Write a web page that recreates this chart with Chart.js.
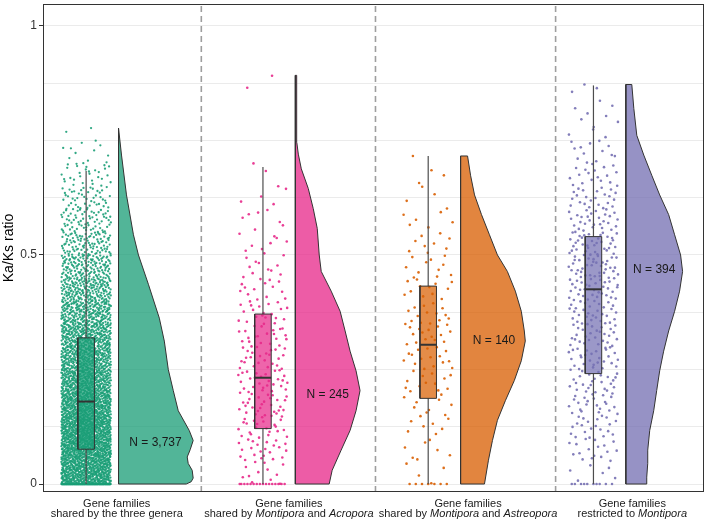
<!DOCTYPE html>
<html>
<head>
<meta charset="utf-8">
<script src="https://cdn.jsdelivr.net/npm/chart.js@4.4.0/dist/chart.umd.min.js"></script>
<style>
  html, body { margin: 0; padding: 0; background: #fff; }
  #wrap { width: 708px; height: 520px; }
</style>
</head>
<body>
<div id="wrap"><canvas id="chart" width="708" height="520"></canvas></div>
<script>
const FONT = "'Liberation Sans', Arial, Helvetica, sans-serif";

// axis ranges
const xMin = 0.669, xMax = 4.669;
const yMin = -0.0174, yMax = 1.0477;
const gridValues = [0, 0.125, 0.25, 0.375, 0.5, 0.625, 0.75, 0.875, 1];
const tickLabels = { 0: '0', 0.5: '0.5', 1: '1' };

// groups
const colors = ['#1b9e77', '#e7298a', '#d95f02', '#7570b3'];
const groupPos = [0.93, 2, 3, 4];
const separators = [1.627, 2.681, 3.771];
const labelPos = [1.115, 2.157, 3.241, 4.235];
const xLabelLine1 = ['Gene families', 'Gene families', 'Gene families', 'Gene families'];
const xLabelLine2 = [
    [['shared by the three genera', false]],
    [['shared by ', false], ['Montipora', true], [' and ', false], ['Acropora', true]],
    [['shared by ', false], ['Montipora', true], [' and ', false], ['Astreopora', true]],
    [['restricted to ', false], ['Montipora', true]]
];
const nLabels = ['N = 3,737', 'N = 245', 'N = 140', 'N = 394'];
const nLabelX = [1.35, 2.392, 3.398, 4.368];
const nLabelY = [0.091, 0.195, 0.312, 0.468];

// box stats: lower whisker, Q1, median, Q3, upper whisker
const boxStats = [
    [0, 0.076, 0.180, 0.319, 0.683],
    [0, 0.121, 0.232, 0.371, 0.692],
    [0, 0.187, 0.304, 0.432, 0.716],
    [0, 0.241, 0.425, 0.540, 0.870]
];

// half-violin density profiles (Ka/Ks level, relative density)
const g1Levels  = [0, 0.005, 0.013, 0.03, 0.045, 0.059, 0.075, 0.095, 0.117, 0.16, 0.204, 0.25, 0.312, 0.362, 0.436, 0.5, 0.544, 0.631, 0.718, 0.777];
const g1Density = [68, 73, 75, 74, 70, 69, 72, 75, 71, 60, 55, 50, 46, 41, 30, 20, 15, 8, 3, 0];
const g2Levels  = [0, 0.03, 0.074, 0.117, 0.16, 0.204, 0.247, 0.29, 0.334, 0.377, 0.421, 0.464, 0.5, 0.558, 0.601, 0.645, 0.688, 0.72, 0.745, 0.8, 0.892];
const g2Density = [34, 37, 46, 55, 61, 65, 61, 55, 50, 45, 36, 26, 24, 22, 18, 13, 6, 3, 1.5, 1.2, 1.5];
const g3Levels  = [0, 0.052, 0.095, 0.139, 0.182, 0.226, 0.269, 0.312, 0.334, 0.377, 0.421, 0.464, 0.5, 0.544, 0.588, 0.631, 0.674, 0.716];
const g3Density = [24, 28, 32, 37, 45, 54, 61, 65, 64, 61, 55, 47, 37, 29, 21, 14, 10, 7];
const g4Levels  = [0, 0.015, 0.045, 0.074, 0.117, 0.16, 0.204, 0.247, 0.29, 0.334, 0.377, 0.421, 0.464, 0.5, 0.544, 0.588, 0.631, 0.674, 0.718, 0.761, 0.82, 0.872];
const g4Density = [21, 21, 22, 22, 24, 28, 31, 34, 38, 43, 49, 54, 57, 55, 49, 43, 34, 26, 18, 11, 8, 6];

// jittered points: count at exactly 0, counts per 0.05 bin, single high values
const binStarts = [0, 0.05, 0.1, 0.15, 0.2, 0.25, 0.3, 0.35, 0.4, 0.45, 0.5, 0.55, 0.6, 0.65, 0.7, 0.75, 0.8, 0.85];
const binWidth = 0.05;
const g1Zeros = 250;
const g1Counts = [450, 460, 440, 400, 340, 300, 280, 232, 189, 142, 98, 67, 46, 29, 12, 1, 0, 0];
const g1Extremes = [0.777];
const g2Zeros = 16;
const g2Counts = [12, 22, 24, 28, 27, 24, 22, 20, 14, 11, 9, 7, 4, 3, 0, 0, 0, 0];
const g2Extremes = [0.865, 0.891];
const g3Zeros = 7;
const g3Counts = [4, 7, 8, 9, 13, 16, 16, 14, 12, 11, 9, 6, 4, 3, 0, 0, 0, 0];
const g3Extremes = [0.716];
const g4Zeros = 10;
const g4Counts = [6, 17, 21, 23, 26, 28, 28, 31, 34, 37, 36, 29, 23, 18, 13, 6, 5, 0];
const g4Extremes = [0.856, 0.864, 0.872];

const violinLevels = [g1Levels, g2Levels, g3Levels, g4Levels];
const violinDensity = [g1Density, g2Density, g3Density, g4Density];
const zeroCounts = [g1Zeros, g2Zeros, g3Zeros, g4Zeros];
const binCounts = [g1Counts, g2Counts, g3Counts, g4Counts];
const extremes = [g1Extremes, g2Extremes, g3Extremes, g4Extremes];

// layout of one group (x units)
const jitterHalf = 0.15;
const boxHalf = 0.05;
const violinGap = 0.196;
const densScale = 1 / 166;

function rgba(hex, a) {
    const n = parseInt(hex.slice(1), 16);
    return `rgba(${(n >> 16) & 255}, ${(n >> 8) & 255}, ${n & 255}, ${a})`;
}

// van der Corput radical inverse, used to spread the jitter evenly
function radicalInverse(n, base) {
    let inv = 1 / base, f = inv, r = 0;
    while (n > 0) {
        r += (n % base) * f;
        n = Math.floor(n / base);
        f *= inv;
    }
    return r;
}

function jitterPoints(pos, zeros, counts, highs) {
    const pts = [];
    let n = 0;
    const add = (from, span) => {
        n++;
        const u = radicalInverse(n, 2);
        const w = radicalInverse(n, 3);
        pts.push({ x: pos + jitterHalf * (2 * u - 1), y: from + span * w });
    };
    for (let i = 0; i < zeros; i++) add(0, 0);
    counts.forEach((c, b) => { for (let i = 0; i < c; i++) add(binStarts[b], binWidth); });
    highs.forEach(v => add(v, 0));
    return pts;
}

function violinPath(pos, levels, dens) {
    const left = pos + violinGap;
    const pts = [{ x: left, y: levels[0] }];
    levels.forEach((v, i) => pts.push({ x: left + dens[i] * densScale, y: v }));
    pts.push({ x: left, y: levels[levels.length - 1] });
    pts.push({ x: left, y: levels[0] });
    return pts;
}

const datasets = [];
separators.forEach(sx => {
    datasets.push({
        type: 'line', data: [{ x: sx, y: yMin }, { x: sx, y: yMax }],
        borderColor: '#9e9e9e', borderWidth: 1.6, borderDash: [6, 4],
        pointRadius: 0, fill: false, order: 20
    });
});

groupPos.forEach((pos, g) => {
    const c = colors[g];
    const [lo, q1, med, q3, hi] = boxStats[g];
    datasets.push({
        type: 'line', data: violinPath(pos, violinLevels[g], violinDensity[g]),
        fill: 'shape', backgroundColor: rgba(c, 0.76), borderColor: '#333333', borderWidth: 1,
        pointRadius: 0, tension: 0, order: 10
    });
    datasets.push({
        type: 'scatter', data: jitterPoints(pos, zeroCounts[g], binCounts[g], extremes[g]),
        pointBackgroundColor: rgba(c, 0.9), pointBorderWidth: 0, pointRadius: g === 0 ? 1.15 : 1.3,
        showLine: false, order: 8
    });
    datasets.push({
        type: 'line', data: [{ x: pos, y: lo }, { x: pos, y: q1 }],
        borderColor: '#4d4d4d', borderWidth: 1.2, pointRadius: 0, fill: false, order: 6
    });
    datasets.push({
        type: 'line', data: [{ x: pos, y: q3 }, { x: pos, y: hi }],
        borderColor: '#4d4d4d', borderWidth: 1.2, pointRadius: 0, fill: false, order: 6
    });
    datasets.push({
        type: 'line',
        data: [{ x: pos - boxHalf, y: q1 }, { x: pos + boxHalf, y: q1 }, { x: pos + boxHalf, y: q3 },
               { x: pos - boxHalf, y: q3 }, { x: pos - boxHalf, y: q1 }],
        fill: 'shape', backgroundColor: rgba(c, 0.72), borderColor: '#333333', borderWidth: 1,
        pointRadius: 0, tension: 0, order: 4
    });
    datasets.push({
        type: 'line', data: [{ x: pos - boxHalf, y: med }, { x: pos + boxHalf, y: med }],
        borderColor: '#333333', borderWidth: 2, pointRadius: 0, fill: false, order: 2
    });
});

const textPlugin = {
    id: 'textPlugin',
    afterDraw(chart) {
        const { ctx, chartArea: a, scales: { x, y } } = chart;
        ctx.save();
        // panel border
        ctx.strokeStyle = '#333333';
        ctx.lineWidth = 1;
        ctx.strokeRect(a.left + 0.5, a.top + 0.5, a.right - a.left - 1, a.bottom - a.top - 1);

        // N labels
        ctx.fillStyle = '#1a1a1a';
        ctx.font = `12px ${FONT}`;
        ctx.textAlign = 'center';
        ctx.textBaseline = 'middle';
        nLabels.forEach((t, i) => ctx.fillText(t, x.getPixelForValue(nLabelX[i]), y.getPixelForValue(nLabelY[i])));

        // category labels, with italic genus names
        ctx.textBaseline = 'alphabetic';
        labelPos.forEach((lp, i) => {
            const cx = x.getPixelForValue(lp);
            ctx.font = `11px ${FONT}`;
            ctx.textAlign = 'center';
            ctx.fillText(xLabelLine1[i], cx, a.bottom + 15);
            const parts = xLabelLine2[i];
            const widths = parts.map(([t, it]) => {
                ctx.font = `${it ? 'italic ' : ''}11px ${FONT}`;
                return ctx.measureText(t).width;
            });
            let px = cx - widths.reduce((s, w) => s + w, 0) / 2;
            ctx.textAlign = 'left';
            parts.forEach(([t, it], k) => {
                ctx.font = `${it ? 'italic ' : ''}11px ${FONT}`;
                ctx.fillText(t, px, a.bottom + 25);
                px += widths[k];
            });
        });

        // y axis title
        ctx.translate(13, (a.top + a.bottom) / 2);
        ctx.rotate(-Math.PI / 2);
        ctx.font = `14px ${FONT}`;
        ctx.textAlign = 'center';
        ctx.fillStyle = '#000000';
        ctx.fillText('Ka/Ks ratio', 0, 0);
        ctx.restore();
    }
};

new Chart(document.getElementById('chart').getContext('2d'), {
    type: 'scatter',
    data: { datasets },
    options: {
        responsive: false,
        devicePixelRatio: 1,
        animation: false,
        events: [],
        layout: { padding: { top: 1, right: 1, left: 0, bottom: 0 } },
        plugins: { legend: { display: false }, tooltip: { enabled: false } },
        scales: {
            x: {
                type: 'linear', min: xMin, max: xMax,
                ticks: { display: false },
                grid: { display: false, drawTicks: false },
                border: { display: false },
                afterFit(s) {
                    s.height = 28;
                    s.paddingLeft = 0; s.paddingRight = 0;
                }
            },
            y: {
                type: 'linear', min: yMin, max: yMax,
                afterBuildTicks(s) { s.ticks = gridValues.map(v => ({ value: v })); },
                ticks: {
                    autoSkip: false,
                    padding: 2,
                    color: '#333333',
                    font: { family: FONT, size: 12 },
                    callback: v => (v in tickLabels ? tickLabels[v] : '')
                },
                grid: {
                    color: '#ebebeb',
                    lineWidth: 1,
                    tickLength: 4,
                    tickColor: c => (c.tick && c.tick.value in tickLabels ? '#333333' : 'rgba(0,0,0,0)')
                },
                border: { display: false },
                afterFit(s) {
                    s.width = 43;
                    s.paddingTop = 0; s.paddingBottom = 0;
                }
            }
        }
    },
    plugins: [textPlugin]
});
</script>
</body>
</html>
